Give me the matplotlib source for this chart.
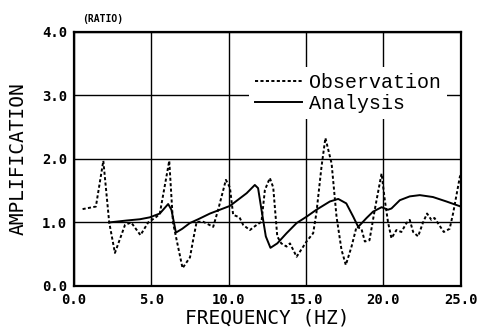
"""
Amplification spectrum: observation vs analysis.
"""
import matplotlib
matplotlib.use("Agg")
import matplotlib.pyplot as plt
import numpy as np

obs_freq = [0.56, 1.42, 1.9, 2.28, 2.65, 3.3, 3.7, 4.3, 4.8, 5.34, 5.55, 6.16, 6.4,
            7.02, 7.5, 7.7, 7.93, 8.36, 9.0, 9.32, 9.82, 10.08, 10.29, 10.7, 10.94,
            11.37, 11.8, 12.12, 12.34, 12.66, 12.88, 13.14, 13.4, 13.74, 13.96, 14.39,
            14.82, 15.03, 15.46, 15.67, 16.0, 16.25, 16.65, 16.97, 17.29, 17.57, 17.94,
            18.26, 18.58, 18.8, 19.1, 19.44, 19.88, 20.09, 20.3, 20.52, 20.84, 21.16,
            21.49, 21.7, 21.92, 22.24, 22.56, 22.82, 23.1, 23.3, 23.6, 23.9, 24.28,
            24.5, 24.94, 25.0]
obs_amp = [1.21, 1.25, 1.97, 1.0, 0.52, 0.96, 1.0, 0.8, 1.0, 1.09, 1.14, 1.97, 1.0,
           0.28, 0.45, 0.72, 1.01, 1.01, 0.93, 1.2, 1.67, 1.55, 1.12, 1.08, 0.96,
           0.88, 0.96, 1.01, 1.51, 1.7, 1.55, 0.78, 0.67, 0.62, 0.67, 0.46,
           0.62, 0.7, 0.83, 1.15, 1.88, 2.33, 1.93, 1.09, 0.57, 0.33, 0.62,
           0.93, 0.9, 0.7, 0.72, 1.2, 1.77, 1.35, 1.0, 0.75, 0.88, 0.85,
           0.99, 1.04, 0.85, 0.78, 1.0, 1.14, 1.04, 1.07, 0.96, 0.85, 0.9,
           1.14, 1.72, 1.75]

# analytical amplification ratio
ana_freq = [2.28, 3.4, 4.26, 4.9, 5.55, 6.09, 6.3, 6.59, 7.0, 7.49, 8.03, 8.79,
            10.08, 11.16, 11.69, 11.9, 12.12, 12.4, 12.7, 13.14, 13.74, 14.39,
            15.03, 15.67, 16.54, 17.08, 17.6, 18.05, 18.37, 18.91, 19.33, 19.88,
            20.3, 20.52, 21.06, 21.7, 22.35, 23.2, 24.07, 25.0]
ana_amp = [1.0, 1.03, 1.05, 1.08, 1.14, 1.29, 1.2, 0.84, 0.9, 0.99, 1.05, 1.14,
           1.26, 1.46, 1.59, 1.54, 1.2, 0.78, 0.6, 0.67, 0.83, 0.99,
           1.09, 1.2, 1.33, 1.37, 1.3, 1.09, 0.93, 1.07, 1.17, 1.24,
           1.2, 1.22, 1.35, 1.41, 1.43, 1.4, 1.33, 1.25]

x_ticks = [0, 5, 10, 15, 20, 25]
y_ticks = [0, 1, 2, 3, 4]

mono = "DejaVu Sans Mono"

fig = plt.figure(figsize=(4.8, 3.36), dpi=100)
ax = fig.add_axes([0.154, 0.149, 0.806, 0.756])

ax.plot(obs_freq, obs_amp, color="black", lw=1.4, linestyle=(0, (1.6, 1.2)),
        label="Observation")
ax.plot(ana_freq, ana_amp, color="black", lw=1.4, label="Analysis")

ax.set_xlim(0, 25)
ax.set_ylim(0, 4)
ax.set_xticks(x_ticks)
ax.set_yticks(y_ticks)
ax.set_xticklabels([f"{v:.1f}" for v in x_ticks], fontfamily=mono,
                   fontweight="bold", fontsize=10)
ax.set_yticklabels([f"{v:.1f}" for v in y_ticks], fontfamily=mono,
                   fontweight="bold", fontsize=10)
ax.tick_params(length=0, pad=5)
ax.grid(True, color="black", lw=1.0)
ax.set_axisbelow(True)
for s in ax.spines.values():
    s.set_linewidth(1.6)

ax.set_xlabel("FREQUENCY (HZ)", fontfamily=mono, fontsize=14, labelpad=1)
ax.set_ylabel("AMPLIFICATION", fontfamily=mono, fontsize=14, labelpad=10)
ax.text(0.02, 1.04, "(RATIO)", transform=ax.transAxes, fontfamily=mono,
        fontweight="bold", fontsize=7)

leg = ax.legend(loc="upper right", bbox_to_anchor=(0.99, 0.9), frameon=True,
                fancybox=False, edgecolor="none", facecolor="white", framealpha=1,
                prop={"family": "Liberation Mono", "size": 14.4}, handlelength=2.35,
                borderpad=0.3, labelspacing=0.1, handletextpad=0.35)

fig.savefig("out.png", dpi=100)
